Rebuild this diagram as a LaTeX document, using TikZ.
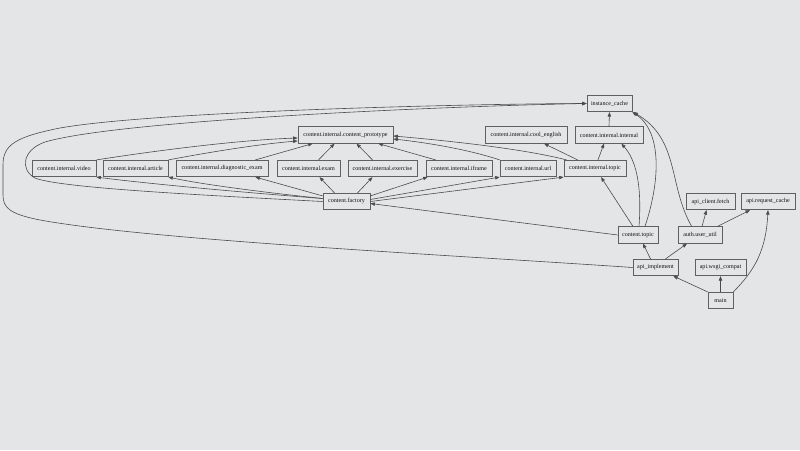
\documentclass[tikz,border=0pt]{standalone}
\usepackage{fontspec}
\setmainfont{Liberation Serif}
\usetikzlibrary{arrows.meta,calc}
\definecolor{bgc}{HTML}{E4E5E7}
\definecolor{boxc}{HTML}{606060}
\definecolor{linec}{HTML}{4C4C4C}
\definecolor{textc}{HTML}{111111}
\begin{document}
\begin{tikzpicture}[x=1pt,y=-1pt,
  box/.style={draw=boxc, line width=0.65pt, inner sep=0pt, minimum height=16.5pt,
    font=\fontsize{6.1}{7}\selectfont, text=textc},
  e/.style={draw=linec, line width=0.6pt, -{Triangle[length=4.5pt,width=3.4pt]}}]
\fill[bgc] (0,0) rectangle (800,450);
\useasboundingbox (0,0) rectangle (800,450);
% nodes
\node[box, minimum width=45pt] (cache) at (609.5,103.5) {instance\_cache};
\node[box, minimum width=95pt] (proto) at (345.5,135) {content.internal.content\_prototype};
\node[box, minimum width=82pt] (cool) at (526,135) {content.internal.cool\_english};
\node[box, minimum width=68pt] (intl) at (609,135) {content.internal.internal};
\node[box, minimum width=64pt] (video) at (64,168.5) {content.internal.video};
\node[box, minimum width=65pt] (article) at (135.5,168.5) {content.internal.article};
\node[box, minimum width=92pt] (diag) at (222,168.5) {content.internal.diagnostic\_exam};
\node[box, minimum width=63pt] (exam) at (308.5,168.5) {content.internal.exam};
\node[box, minimum width=69pt] (exercise) at (382.5,168.5) {content.internal.exercise};
\node[box, minimum width=66pt] (iframe) at (459,168.5) {content.internal.iframe};
\node[box, minimum width=56pt] (url) at (528,168.5) {content.internal.url};
\node[box, minimum width=62pt] (itopic) at (595,168.5) {content.internal.topic};
\node[box, minimum width=47pt] (factory) at (346.5,201.5) {content.factory};
\node[box, minimum width=49pt] (fetch) at (710.5,201.5) {api\_client.fetch};
\node[box, minimum width=54pt] (reqcache) at (768,201.5) {api.request\_cache};
\node[box, minimum width=40pt] (ctopic) at (638,235) {content.topic};
\node[box, minimum width=44pt] (authu) at (700,235) {auth.user\_util};
\node[box, minimum width=45pt] (apiimpl) at (655.5,267.5) {api\_implement};
\node[box, minimum width=51pt] (wsgi) at (720.5,267.5) {api.wsgi\_compat};
\node[box, minimum width=25pt] (mainn) at (720.5,300.5) {main};
% edges to instance_cache
\draw[e] (intl.north) -- (cache.south);
\draw[e] (apiimpl.west) .. controls (450,255) and (150,240) .. (40,220)
  .. controls (10,214) and (3,208) .. (3,195) -- (3,165)
  .. controls (3,145) and (15,137) .. (60,128)
  .. controls (150,112) and (450,104) .. (cache.west);
\draw[e] (factory.west) .. controls (200,195) and (60,188) .. (35,178)
  .. controls (20,170) and (22,150) .. (45,142)
  .. controls (120,120) and (450,106) .. (cache.west);
\draw[e] ($(ctopic.north)+(7,0)$) .. controls (662,175) and (660,130) .. (cache.south east);
\draw[e] ($(authu.north west)+(14,0)$) .. controls (668,185) and (680,140) .. ($(cache.south east)+(1,0)$);
% edges to prototype
\draw[e] (video.north east) .. controls (160,150) and (240,140) .. ($(proto.west)+(0,3)$);
\draw[e] (article.north east) .. controls (210,152) and (260,144) .. ($(proto.west)+(0,6)$);
\draw[e] ($(diag.north east)+(-13,0)$) -- ($(proto.south west)+(15,0)$);
\draw[e] ($(exam.north)+(10,0)$) -- ($(proto.south)+(-11,0)$);
\draw[e] ($(exercise.north)+(-10,0)$) -- ($(proto.south)+(11,0)$);
\draw[e] ($(iframe.north west)+(10,0)$) -- ($(proto.south east)+(-15,0)$);
\draw[e] (url.north west) .. controls (470,150) and (430,143) .. ($(proto.east)+(0,4)$);
\draw[e] ($(itopic.north west)+(3,0)$) .. controls (520,148) and (440,140) .. ($(proto.east)+(0,1)$);
% internal.topic
\draw[e] ($(itopic.north west)+(14,0)$) -- ($(cool.south)+(18,0)$);
\draw[e] ($(itopic.north)+(3,0)$) -- ($(intl.south)+(-5,0)$);
% factory
\draw[e] ($(factory.west)+(0,-3)$) .. controls (250,193) and (150,184) .. (video.south east);
\draw[e] ($(factory.west)+(0,-3)$) .. controls (260,192) and (200,184) .. (article.south east);
\draw[e] ($(factory.north west)+(0,3)$) -- ($(diag.south east)+(-13,0)$);
\draw[e] ($(factory.north)+(-12,0)$) -- ($(exam.south)+(11,0)$);
\draw[e] ($(factory.north)+(11,0)$) -- ($(exercise.south)+(-10,0)$);
\draw[e] ($(factory.north east)+(0,3)$) -- ($(iframe.south west)+(2,0)$);
\draw[e] ($(factory.east)+(0,-2)$) -- (url.south west);
\draw[e] (factory.east) -- (itopic.south west);
% content.topic
\draw[e] (ctopic.west) -- ($(factory.east)+(0,2)$);
\draw[e] ($(ctopic.north)+(-5,0)$) -- ($(itopic.south)+(6,0)$);
\draw[e] ($(ctopic.north)+(1,0)$) .. controls (642,185) and (636,160) .. ($(intl.south east)+(-22,0)$);
% auth
\draw[e] ($(authu.north)+(2,0)$) -- ($(fetch.south)+(-4,0)$);
\draw[e] ($(authu.north east)+(-5,0)$) -- ($(reqcache.south)+(-18,0)$);
% api_implement
\draw[e] ($(apiimpl.north)+(-5,0)$) -- ($(ctopic.south)+(5,0)$);
\draw[e] ($(apiimpl.north)+(10,0)$) -- ($(authu.south)+(-13,0)$);
% main
\draw[e] (mainn.north west) -- ($(apiimpl.south east)+(-5,0)$);
\draw[e] (mainn.north) -- (wsgi.south);
\draw[e] (mainn.north east) .. controls (755,270) and (766,250) .. (reqcache.south);
\end{tikzpicture}
\end{document}
